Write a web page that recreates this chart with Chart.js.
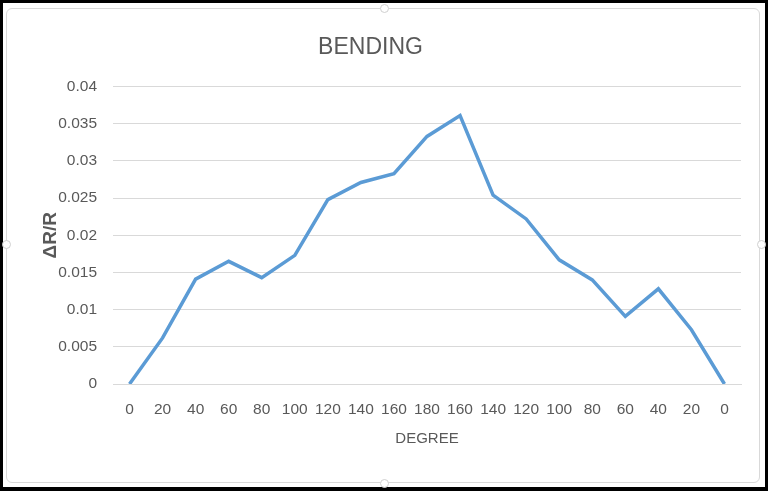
<!DOCTYPE html>
<html>
<head>
<meta charset="utf-8">
<script src="https://cdn.jsdelivr.net/npm/chart.js@4/dist/chart.umd.min.js"></script>
<style>
  html, body { margin: 0; padding: 0; background: #fff; }
  #frame {
    position: absolute; left: 0; top: 0; width: 768px; height: 491px;
    box-sizing: border-box; border: 3px solid #000; border-bottom-width: 4px;
  }
  #inner {
    position: absolute; left: 6px; top: 8px; width: 754px; height: 475px;
    box-sizing: border-box; border: 1px solid #d9d9d9; border-radius: 6px;
  }
  .knob {
    position: absolute; width: 7px; height: 7px; border: 1px solid #d0d0d0;
    border-radius: 50%; background: #fff;
  }
  canvas { position: absolute; left: 0; top: 0; }
</style>
</head>
<body>
<div id="frame"></div>
<div id="inner"></div>
<div class="knob" style="left:380px;top:4px"></div>
<div class="knob" style="left:380px;top:479px"></div>
<div class="knob" style="left:2px;top:240px"></div>
<div class="knob" style="left:757px;top:240px"></div>
<canvas id="bendChart" width="768" height="491"></canvas>
<script>
// Bending data: degree sweep up to 180 and back
const degrees = ['0', '20', '40', '60', '80', '100', '120', '140', '160', '180',
                 '160', '140', '120', '100', '80', '60', '40', '20', '0'];
const deltaR = [0, 0.0062, 0.0141, 0.0165, 0.0143, 0.0173, 0.0248, 0.0271, 0.0283, 0.0333,
                0.0361, 0.0254, 0.0222, 0.0167, 0.0140, 0.0091, 0.0128, 0.0073, 0];
const yTickLabels = ['0', '0.005', '0.01', '0.015', '0.02', '0.025', '0.03', '0.035', '0.04'];

const font = "'Liberation Sans Narrow', 'Liberation Sans', sans-serif";
const grey = '#595959';

const ctx = document.getElementById('bendChart').getContext('2d');
const bendChart = new Chart(ctx, {
    type: 'line',
    data: {
        labels: degrees,
        datasets: [{
            label: 'Bending',
            data: deltaR,
            borderColor: '#5b9bd5',
            borderWidth: 3.5,
            pointRadius: 0,
            fill: false,
            tension: 0
        }]
    },
    options: {
        responsive: false,
        animation: false,
        layout: { padding: { left: 0, right: 27, top: 0, bottom: 0 } },
        plugins: {
            legend: { display: false },
            tooltip: { enabled: false },
            title: {
                display: true,
                text: 'BENDING',
                color: grey,
                font: { family: font, size: 23, weight: 'normal' },
                padding: { top: 34, bottom: 25 }
            }
        },
        scales: {
            x: {
                offset: true,
                grid: { display: false, drawTicks: false },
                border: { display: true, color: '#d9d9d9' },
                ticks: {
                    color: grey, padding: 16, maxRotation: 0, autoSkip: false,
                    font: { family: font, size: 15.5 }
                },
                title: {
                    display: true, text: 'DEGREE', color: grey,
                    font: { family: font, size: 15 },
                    padding: { top: 4, bottom: 43 }
                },
                afterFit: function(scale) { scale.height = 107; }
            },
            y: {
                min: 0,
                max: 0.04,
                grid: { color: '#d9d9d9', lineWidth: 1, drawTicks: false },
                border: { display: false },
                ticks: {
                    stepSize: 0.005, color: grey, padding: 16,
                    font: { family: font, size: 15.5 }
                    , callback: function(value, index) { return yTickLabels[index]; }
                },
                title: {
                    display: true, text: 'ΔR/R', color: grey,
                    font: { family: font, size: 19, weight: 'bold' },
                    padding: { top: 39, bottom: 0 }
                },
                afterFit: function(scale) { scale.width = 113; }
            }
        }
    }
});
</script>
</body>
</html>
